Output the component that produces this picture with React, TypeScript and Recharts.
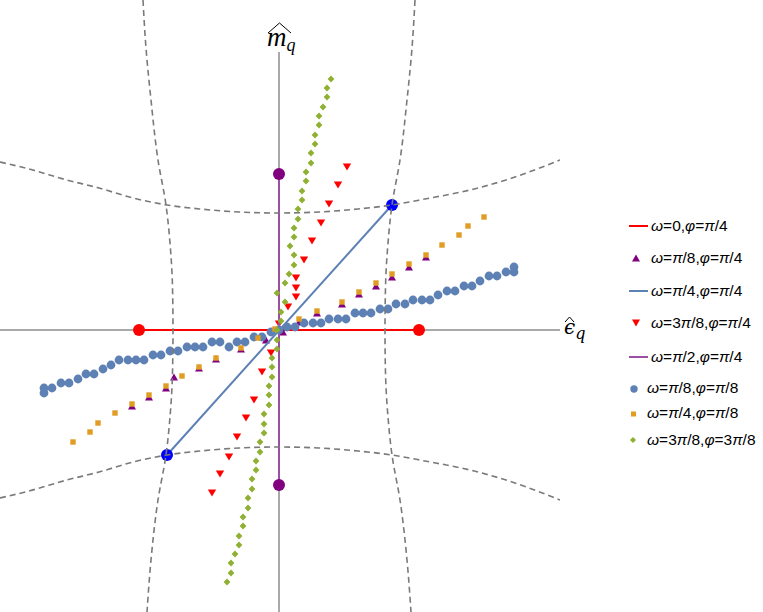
import React from 'react';
import { ScatterChart, Scatter, XAxis, YAxis, ReferenceLine } from 'recharts';

// positions relative to the origin (epsilon_q, m_q)
const omega0Line = [[-1.4, 0], [1.4, 0]];
const omegaQuarterLine = [[-1.12, -1.25], [1.13, 1.25]];
const omegaHalfLine = [[0, -1.55], [0, 1.56]];

const purpleTriangles = [
  [-1.47, -0.76], [-1.3, -0.67], [-1.13, -0.58], [-1.05, -0.47], [-0.8, -0.38], [-0.63, -0.29],
  [-0.38, -0.19], [-0.13, -0.1], [0.04, -0.02], [0.2, 0.08], [0.38, 0.17], [0.63, 0.26],
  [0.8, 0.36], [0.97, 0.44], [1.13, 0.53], [1.3, 0.63], [1.47, 0.73]
];

const redTriangles = [
  [0.68, 1.63], [0.59, 1.45], [0.5, 1.26], [0.42, 1.07], [0.33, 0.89], [0.25, 0.7], [0.17, 0.52],
  [0.17, 0.42], [0.17, 0.33], [0.09, 0.23], [0.0, 0.06], [-0.08, -0.23], [-0.17, -0.42],
  [-0.25, -0.7], [-0.33, -0.88], [-0.42, -1.07], [-0.5, -1.27], [-0.59, -1.44], [-0.67, -1.63]
];

const blueCircles = [
  [-2.35, -0.63], [-2.35, -0.58], [-2.27, -0.58], [-2.18, -0.53], [-2.1, -0.53], [-2.01, -0.49],
  [-1.93, -0.44], [-1.85, -0.44], [-1.76, -0.39], [-1.68, -0.35], [-1.6, -0.3], [-1.51, -0.3],
  [-1.43, -0.3], [-1.35, -0.3], [-1.26, -0.25], [-1.18, -0.25], [-1.09, -0.21], [-1.01, -0.21],
  [-0.92, -0.17], [-0.84, -0.17], [-0.76, -0.17], [-0.67, -0.12], [-0.59, -0.12], [-0.5, -0.17],
  [-0.42, -0.12], [-0.34, -0.12], [-0.25, -0.07], [-0.17, -0.07], [-0.08, -0.02], [0, 0],
  [0.08, 0.03], [0.16, 0.03], [0.25, 0.07], [0.34, 0.07], [0.42, 0.07], [0.5, 0.11], [0.59, 0.11],
  [0.67, 0.11], [0.76, 0.17], [0.84, 0.17], [0.92, 0.17], [1.01, 0.21], [1.09, 0.21], [1.17, 0.26],
  [1.26, 0.26], [1.34, 0.3], [1.43, 0.3], [1.51, 0.3], [1.59, 0.35], [1.68, 0.39], [1.76, 0.39],
  [1.85, 0.44], [1.93, 0.44], [2.01, 0.49], [2.1, 0.54], [2.18, 0.54], [2.27, 0.58], [2.35, 0.63],
  [2.35, 0.58]
];

const orangeSquares = [
  [-2.06, -1.12], [-1.89, -1.02], [-1.81, -0.93], [-1.64, -0.83], [-1.47, -0.74], [-1.3, -0.65],
  [-1.13, -0.56], [-0.97, -0.46], [-0.8, -0.37], [-0.63, -0.28], [-0.38, -0.18], [-0.21, -0.08],
  [-0.04, 0.01], [0.2, 0.11], [0.38, 0.19], [0.63, 0.28], [0.8, 0.38], [0.97, 0.47], [1.13, 0.56],
  [1.3, 0.66], [1.47, 0.75], [1.63, 0.85], [1.8, 0.95], [1.89, 1.04], [2.05, 1.13]
];

const greenDiamonds = [
  [0.52, 2.51], [0.48, 2.42], [0.48, 2.33], [0.44, 2.23], [0.4, 2.14], [0.4, 2.05], [0.36, 1.95],
  [0.36, 1.86], [0.32, 1.77], [0.32, 1.67], [0.27, 1.58], [0.27, 1.49], [0.23, 1.39], [0.23, 1.3],
  [0.19, 1.21], [0.19, 1.11], [0.15, 1.02], [0.15, 0.93], [0.11, 0.84], [0.15, 0.75], [0.15, 0.65],
  [0.1, 0.56], [0.06, 0.47], [-0.02, 0.37], [0.06, 0.28], [0.02, 0.18], [0.02, 0.09], [-0.02, 0],
  [-0.02, -0.1], [-0.02, -0.19], [-0.07, -0.28], [-0.07, -0.37], [-0.07, -0.47], [-0.1, -0.56],
  [-0.1, -0.65], [-0.1, -0.75], [-0.15, -0.84], [-0.15, -0.94], [-0.15, -1.03], [-0.19, -1.12],
  [-0.19, -1.22], [-0.23, -1.31], [-0.23, -1.4], [-0.27, -1.49], [-0.27, -1.59], [-0.31, -1.68],
  [-0.31, -1.78], [-0.36, -1.87], [-0.36, -1.96], [-0.4, -2.06], [-0.4, -2.15], [-0.44, -2.24],
  [-0.48, -2.33], [-0.48, -2.43], [-0.52, -2.52]
];

// dashed level curves
const upperCurve = [
  [-2.79, 1.68], [-2.5, 1.61], [-2.12, 1.5], [-1.8, 1.42], [-1.46, 1.32], [-1.12, 1.25],
  [-0.79, 1.21], [-0.4, 1.18], [0, 1.17], [0.4, 1.18], [0.79, 1.21], [1.13, 1.25], [1.46, 1.31],
  [1.91, 1.4], [2.3, 1.51], [2.81, 1.7]
];
const lowerCurve = upperCurve.map(([x, y]) => [x, -y]);
const rightCurve = [
  [1.36, 3.3], [1.33, 2.82], [1.28, 2.3], [1.21, 1.7], [1.13, 1.25], [1.09, 0.87], [1.065, 0.43],
  [1.06, 0], [1.065, -0.43], [1.09, -0.87], [1.13, -1.25], [1.21, -1.7], [1.28, -2.3], [1.32, -2.82]
];
const leftCurve = rightCurve.map(([x, y]) => [-x, y]);

const pts = (arr: number[][]) => arr.map(([x, y]) => ({ x, y }));

const RED = '#ff0000';
const PURPLE = '#800080';
const STEEL = '#5e81b5';
const ORANGE = '#e19c24';
const GREEN = '#8fb032';

const legendItems = [
  { label: ['ω', '=0,', 'φ', '=', 'π', '/4'], kind: 'line', color: RED },
  { label: ['ω', '=', 'π', '/8,', 'φ', '=', 'π', '/4'], kind: 'up', color: PURPLE },
  { label: ['ω', '=', 'π', '/4,', 'φ', '=', 'π', '/4'], kind: 'line', color: STEEL },
  { label: ['ω', '=3', 'π', '/8,', 'φ', '=', 'π', '/4'], kind: 'down', color: RED },
  { label: ['ω', '=', 'π', '/2,', 'φ', '=', 'π', '/4'], kind: 'line', color: '#9b4fa3' },
  { label: ['ω', '=', 'π', '/8,', 'φ', '=', 'π', '/8'], kind: 'circle', color: STEEL },
  { label: ['ω', '=', 'π', '/4,', 'φ', '=', 'π', '/8'], kind: 'square', color: ORANGE },
  { label: ['ω', '=3', 'π', '/8,', 'φ', '=3', 'π', '/8'], kind: 'diamond', color: GREEN }
];
const legendY = [226, 258, 291, 323, 357, 388, 413, 440];

const GREEK = new Set(['ω', 'φ', 'π']);

const noDot = () => <g />;
const endDot = (fill: string) => (p: any) => <circle cx={p.cx} cy={p.cy} r={6} fill={fill} />;

function LegendSymbol({ kind, color, y }: { kind: string; color: string; y: number }) {
  if (kind === 'line') return <line x1={629} x2={648} y1={y} y2={y} stroke={color} strokeWidth={2} />;
  if (kind === 'up') return <polygon points={`${636 - 4},${y + 3.5} ${636 + 4},${y + 3.5} ${636},${y - 3.5}`} fill={color} />;
  if (kind === 'down') return <polygon points={`${636 - 4},${y - 3.5} ${636 + 4},${y - 3.5} ${636},${y + 3.5}`} fill={color} />;
  if (kind === 'circle') return <circle cx={634} cy={y + 1} r={3.7} fill={color} />;
  if (kind === 'square') return <rect x={631} y={y - 1.5} width={5} height={5} fill={color} />;
  return <polygon points={`633,${y - 3} 636,${y} 633,${y + 3} 630,${y}`} fill={color} />;
}

export default function App() {
  return (
    <div style={{ position: 'absolute', left: 0, top: 0, width: 763, height: 612, background: '#fff' }}>
      <ScatterChart width={763} height={612} margin={{ top: 0, right: 203, bottom: 0, left: 0 }}>
        <XAxis type="number" dataKey="x" domain={[-2.79, 2.81]} allowDataOverflow hide />
        <YAxis type="number" dataKey="y" domain={[-2.82, 3.3]} allowDataOverflow hide />
        <ReferenceLine y={0} stroke="#555" strokeWidth={1} />
        <ReferenceLine segment={[{ x: 0, y: -2.82 }, { x: 0, y: 2.78 }]} stroke="#555" strokeWidth={1} />

        <Scatter data={pts(omega0Line)} line={{ stroke: RED, strokeWidth: 2 }} shape={endDot(RED)} isAnimationActive={false} />
        <Scatter
          data={pts(purpleTriangles)}
          shape={(p: any) => (
            <polygon points={`${p.cx - 4},${p.cy + 3.5} ${p.cx + 4},${p.cy + 3.5} ${p.cx},${p.cy - 3.5}`} fill={PURPLE} />
          )}
          isAnimationActive={false}
        />
        <Scatter data={pts(omegaQuarterLine)} line={{ stroke: STEEL, strokeWidth: 2 }} shape={endDot('#0000ff')} isAnimationActive={false} />
        <Scatter
          data={pts(redTriangles)}
          shape={(p: any) => (
            <polygon points={`${p.cx - 4.2},${p.cy - 3.6} ${p.cx + 4.2},${p.cy - 3.6} ${p.cx},${p.cy + 3.6}`} fill={RED} />
          )}
          isAnimationActive={false}
        />
        <Scatter data={pts(omegaHalfLine)} line={{ stroke: '#9b4fa3', strokeWidth: 2 }} shape={endDot(PURPLE)} isAnimationActive={false} />
        <Scatter
          data={pts(blueCircles)}
          shape={(p: any) => <circle cx={p.cx} cy={p.cy} r={4.4} fill={STEEL} />}
          isAnimationActive={false}
        />
        <Scatter
          data={pts(orangeSquares)}
          shape={(p: any) => <rect x={p.cx - 2.7} y={p.cy - 2.7} width={5.4} height={5.4} fill={ORANGE} />}
          isAnimationActive={false}
        />
        <Scatter
          data={pts(greenDiamonds)}
          shape={(p: any) => (
            <polygon points={`${p.cx},${p.cy - 3.4} ${p.cx + 3.4},${p.cy} ${p.cx},${p.cy + 3.4} ${p.cx - 3.4},${p.cy}`} fill={GREEN} />
          )}
          isAnimationActive={false}
        />

        {[upperCurve, lowerCurve].map((c, i) => (
          <Scatter
            key={`h${i}`}
            data={pts(c)}
            line={{ stroke: '#7a7a7a', strokeWidth: 1.6, strokeDasharray: '6 4' }}
            lineJointType="monotoneX"
            shape={noDot}
            isAnimationActive={false}
          />
        ))}
        {[leftCurve, rightCurve].map((c, i) => (
          <Scatter
            key={`v${i}`}
            data={pts(c)}
            line={{ stroke: '#7a7a7a', strokeWidth: 1.6, strokeDasharray: '6 4' }}
            lineJointType="monotoneY"
            shape={noDot}
            isAnimationActive={false}
          />
        ))}
      </ScatterChart>

      <svg width={763} height={612} style={{ position: 'absolute', left: 0, top: 0, pointerEvents: 'none' }}>
        {/* axis labels */}
        <path d="M268,33 L279.5,23 L291,33" fill="none" stroke="#000" strokeWidth={1} />
        <text x={267} y={46} fontFamily="'Liberation Serif', 'DejaVu Serif', serif" fontStyle="italic" fontSize={27}>
          m<tspan fontSize={18} dy={5}>q</tspan>
        </text>
        <path d="M565,322 L569.5,317 L574,322" fill="none" stroke="#000" strokeWidth={1} />
        <text x={564} y={334} fontFamily="'DejaVu Serif', 'Liberation Serif', serif" fontStyle="italic" fontSize={20}>
          ϵ<tspan fontSize={16} dy={5}>q</tspan>
        </text>

        {/* legend */}
        {legendItems.map((it, i) => {
          const y = legendY[i];
          const tx = it.kind === 'line' || it.kind === 'up' || it.kind === 'down' ? 651 : 647;
          return (
            <g key={i}>
              <LegendSymbol kind={it.kind} color={it.color} y={y} />
              <text x={tx} y={y + 5} fontFamily="'Liberation Sans', Arial, sans-serif" fontSize={15.5} fill="#000">
                {it.label.map((s, j) => (
                  <tspan key={j} fontStyle={GREEK.has(s) ? 'italic' : 'normal'}>{s}</tspan>
                ))}
              </text>
            </g>
          );
        })}
      </svg>
    </div>
  );
}
